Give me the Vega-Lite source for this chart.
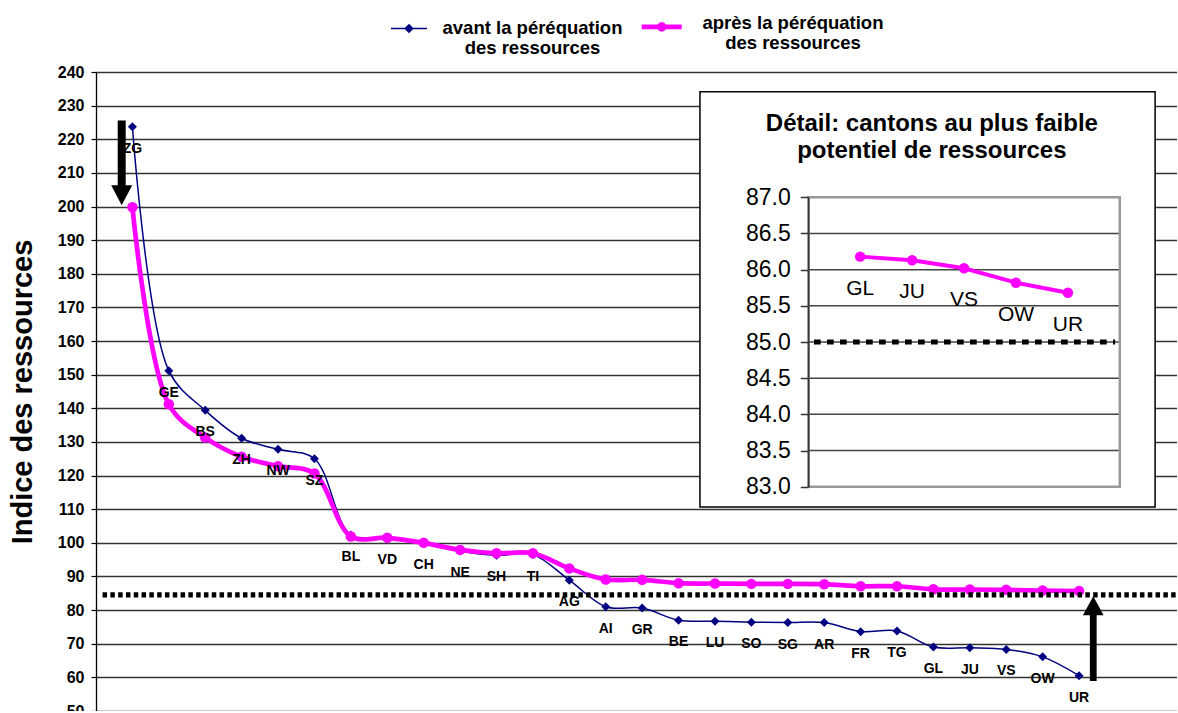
{
  "$schema": "https://vega.github.io/schema/vega-lite/v6.json",
  "autosize": {"type": "none"},
  "padding": {"left": 96, "top": 72, "right": 0, "bottom": 0},
  "width": 1081,
  "height": 639,
  "background": "white",
  "config": {"view": {"stroke": null}, "font": "Liberation Sans"},
  "datasets": {
    "cantons": [
      {"rang": 1, "canton": "ZG", "avant": 223.7, "apres": 199.8},
      {"rang": 2, "canton": "GE", "avant": 151.2, "apres": 141.2},
      {"rang": 3, "canton": "BS", "avant": 139.4, "apres": 131.3},
      {"rang": 4, "canton": "ZH", "avant": 131.1, "apres": 125.6},
      {"rang": 5, "canton": "NW", "avant": 127.8, "apres": 122.8},
      {"rang": 6, "canton": "SZ", "avant": 125.0, "apres": 120.6},
      {"rang": 7, "canton": "BL", "avant": 102.3, "apres": 101.9},
      {"rang": 8, "canton": "VD", "avant": 101.3, "apres": 101.5},
      {"rang": 9, "canton": "CH", "avant": 100.0, "apres": 100.0},
      {"rang": 10, "canton": "NE", "avant": 97.6, "apres": 97.9},
      {"rang": 11, "canton": "SH", "avant": 96.3, "apres": 96.9},
      {"rang": 12, "canton": "TI", "avant": 96.5, "apres": 96.9},
      {"rang": 13, "canton": "AG", "avant": 88.9, "apres": 92.4},
      {"rang": 14, "canton": "AI", "avant": 81.0, "apres": 89.1},
      {"rang": 15, "canton": "GR", "avant": 80.6, "apres": 89.0},
      {"rang": 16, "canton": "BE", "avant": 77.0, "apres": 88.0},
      {"rang": 17, "canton": "LU", "avant": 76.7, "apres": 87.9},
      {"rang": 18, "canton": "SO", "avant": 76.4, "apres": 87.8},
      {"rang": 19, "canton": "SG", "avant": 76.3, "apres": 87.8},
      {"rang": 20, "canton": "AR", "avant": 76.3, "apres": 87.7},
      {"rang": 21, "canton": "FR", "avant": 73.6, "apres": 87.1},
      {"rang": 22, "canton": "TG", "avant": 73.8, "apres": 87.1},
      {"rang": 23, "canton": "GL", "avant": 69.0, "apres": 86.18},
      {"rang": 24, "canton": "JU", "avant": 68.8, "apres": 86.13},
      {"rang": 25, "canton": "VS", "avant": 68.3, "apres": 86.02},
      {"rang": 26, "canton": "OW", "avant": 66.1, "apres": 85.82},
      {"rang": 27, "canton": "UR", "avant": 60.5, "apres": 85.68}
    ],
    "fleches": [
      {"sens": "baisse", "x": 0.706, "y": 213.0},
      {"sens": "hausse", "x": 27.39, "y": 71.5}
    ],
    "seuil": [{"y": 84.5, "x1": 0.18, "x2": 29.69}],
    "detail": [
      {"rang": 1, "canton": "GL", "apres": 86.18},
      {"rang": 2, "canton": "JU", "apres": 86.13},
      {"rang": 3, "canton": "VS", "apres": 86.02},
      {"rang": 4, "canton": "OW", "apres": 85.82},
      {"rang": 5, "canton": "UR", "apres": 85.68}
    ],
    "cadre": [{"x1": -2.087, "x2": 6.68, "y1": 82.72, "y2": 88.46}],
    "zone": [{"x1": 0, "x2": 6, "y1": 83, "y2": 87}],
    "grille": [{"g": 83.5}, {"g": 84}, {"g": 84.5}, {"g": 85}, {"g": 85.5}, {"g": 86}, {"g": 86.5}],
    "seuilDetail": [{"y": 85, "x1": 0.11, "x2": 5.91}],
    "titreDetail": [{"x": 2.38, "y": 88.02, "texte": ["Détail: cantons au plus faible", "potentiel de ressources"]}]
  },
  "layer": [
    {
      "data": {"name": "cantons"},
      "mark": {"type": "line", "interpolate": "catmull-rom", "strokeWidth": 1.5, "color": "#000080"},
      "encoding": {
        "x": {"field": "rang", "type": "quantitative", "scale": {"domain": [0, 29.69], "nice": false, "zero": false}, "axis": null},
        "y": {"field": "avant", "type": "quantitative", "scale": {"domain": [50, 240], "nice": false, "zero": false},
          "axis": {
            "values": [50, 60, 70, 80, 90, 100, 110, 120, 130, 140, 150, 160, 170, 180, 190, 200, 210, 220, 230, 240],
            "grid": true, "gridColor": "#333333", "gridWidth": 1.3, "gridOpacity": 1,
            "domainColor": "#000000", "domainWidth": 1.3,
            "tickColor": "#000000", "tickSize": 5, "tickWidth": 1.2,
            "labelFont": "Liberation Sans", "labelFontSize": 16, "labelFontWeight": "bold", "labelColor": "#000000", "labelPadding": 7,
            "title": "Indice des ressources", "titleFont": "Liberation Sans", "titleFontSize": 29, "titleFontWeight": "bold", "titleColor": "#000000", "titlePadding": 20
          }}
      }
    },
    {
      "data": {"name": "cantons"},
      "mark": {"type": "point", "shape": "diamond", "filled": true, "size": 81, "color": "#000080", "opacity": 1},
      "encoding": {
        "x": {"field": "rang", "type": "quantitative", "scale": {"domain": [0, 29.69], "nice": false, "zero": false}, "axis": null},
        "y": {"field": "avant", "type": "quantitative", "scale": {"domain": [50, 240], "nice": false, "zero": false}, "axis": null}
      }
    },
    {
      "data": {"name": "cantons"},
      "mark": {"type": "line", "interpolate": "catmull-rom", "strokeWidth": 4.7, "color": "#FF00FF"},
      "encoding": {
        "x": {"field": "rang", "type": "quantitative", "scale": {"domain": [0, 29.69], "nice": false, "zero": false}, "axis": null},
        "y": {"field": "apres", "type": "quantitative", "scale": {"domain": [50, 240], "nice": false, "zero": false}, "axis": null}
      }
    },
    {
      "data": {"name": "cantons"},
      "mark": {"type": "point", "shape": "circle", "filled": true, "size": 110, "color": "#FF00FF", "opacity": 1},
      "encoding": {
        "x": {"field": "rang", "type": "quantitative", "scale": {"domain": [0, 29.69], "nice": false, "zero": false}, "axis": null},
        "y": {"field": "apres", "type": "quantitative", "scale": {"domain": [50, 240], "nice": false, "zero": false}, "axis": null}
      }
    },
    {
      "data": {"name": "cantons"},
      "mark": {"type": "text", "font": "Liberation Sans", "fontSize": 14, "fontWeight": "bold", "color": "#000000", "dy": 22, "baseline": "middle", "align": "center"},
      "encoding": {
        "x": {"field": "rang", "type": "quantitative", "scale": {"domain": [0, 29.69], "nice": false, "zero": false}, "axis": null},
        "y": {"field": "avant", "type": "quantitative", "scale": {"domain": [50, 240], "nice": false, "zero": false}, "axis": null},
        "text": {"field": "canton", "type": "nominal"}
      }
    },
    {
      "data": {"name": "seuil"},
      "mark": {"type": "rule", "strokeWidth": 5.3, "strokeDash": [4.5, 3.3], "color": "#000000"},
      "encoding": {
        "x": {"field": "x1", "type": "quantitative", "scale": {"domain": [0, 29.69], "nice": false, "zero": false}, "axis": null},
        "x2": {"field": "x2"},
        "y": {"field": "y", "type": "quantitative", "scale": {"domain": [50, 240], "nice": false, "zero": false}, "axis": null}
      }
    },
    {
      "data": {"name": "fleches"},
      "mark": {"type": "point", "filled": true, "size": 7200, "color": "#000000", "opacity": 1, "strokeWidth": 0},
      "encoding": {
        "x": {"field": "x", "type": "quantitative", "scale": {"domain": [0, 29.69], "nice": false, "zero": false}, "axis": null},
        "y": {"field": "y", "type": "quantitative", "scale": {"domain": [50, 240], "nice": false, "zero": false}, "axis": null},
        "shape": {"field": "sens", "type": "nominal", "legend": null,
          "scale": {"domain": ["baisse", "hausse"], "range": [
            "M-0.094,-1L0.094,-1L0.094,0.53L0.2476,0.53L0,1L-0.2476,0.53L-0.094,0.53Z",
            "M-0.08,1L0.08,1L0.08,-0.55L0.244,-0.55L0,-1L-0.244,-0.55L-0.08,-0.55Z"
          ]}}
      }
    },
    {
      "data": {"values": []},
      "mark": {"type": "point", "filled": false, "color": "#000080", "strokeWidth": 1.5, "opacity": 1},
      "encoding": {
        "shape": {"datum": "avant", "type": "nominal",
          "scale": {"domain": ["avant"], "range": ["M-1,-0.278L1,-0.278M0,-0.486L0.208,-0.278L0,-0.07L-0.208,-0.278ZM0,-0.416L0.138,-0.278L0,-0.14L-0.138,-0.278ZM0,-0.346L0.068,-0.278L0,-0.21L-0.068,-0.278Z"]},
          "legend": {
            "orient": "none", "legendX": 294, "legendY": -57.5, "direction": "horizontal", "title": null, "padding": 0,
            "symbolSize": 1296, "symbolStrokeWidth": 1.5, "symbolOpacity": 1,
            "labelFont": "Liberation Sans", "labelFontSize": 18.5, "labelFontWeight": "bold", "labelColor": "#000000",
            "labelLimit": 0, "labelAlign": "center", "labelBaseline": "alphabetic", "labelOffset": 104.5,
            "labelExpr": "['avant la péréquation', 'des ressources']"
          }}
      }
    },
    {
      "data": {"values": []},
      "mark": {"type": "point", "filled": false, "color": "#FF00FF", "strokeWidth": 4.7, "opacity": 1},
      "encoding": {
        "shape": {"datum": "apres", "type": "nominal",
          "scale": {"domain": ["apres"], "range": ["M-1,-0.08L1,-0.08M0.1175,-0.08L0.1018,-0.0212L0.0588,0.0218L0,0.0375L-0.0588,0.0218L-0.1018,-0.0212L-0.1175,-0.08L-0.1018,-0.1388L-0.0588,-0.1818L0,-0.1975L0.0588,-0.1818L0.1018,-0.1388Z"]},
          "legend": {
            "orient": "none", "legendX": 543.2, "legendY": -66, "direction": "horizontal", "title": null, "padding": 0,
            "symbolSize": 1600, "symbolStrokeWidth": 4.7, "symbolOpacity": 1,
            "labelFont": "Liberation Sans", "labelFontSize": 18.5, "labelFontWeight": "bold", "labelColor": "#000000",
            "labelLimit": 0, "labelAlign": "center", "labelBaseline": "alphabetic", "labelOffset": 108.8,
            "labelExpr": "['après la péréquation', 'des ressources']"
          }}
      }
    },
    {
      "data": {"name": "cadre"},
      "mark": {"type": "rect", "fill": "#FFFFFF", "stroke": "#000000", "strokeWidth": 1.5},
      "encoding": {
        "x": {"field": "x1", "type": "quantitative", "scale": {"domain": [0, 6], "range": [712.3, 1023.8], "nice": false, "zero": false}, "axis": null},
        "x2": {"field": "x2"},
        "y": {"field": "y1", "type": "quantitative", "scale": {"domain": [83, 87], "range": [414.7, 125.3], "nice": false, "zero": false}, "axis": null},
        "y2": {"field": "y2"}
      }
    },
    {
      "data": {"name": "grille"},
      "mark": {"type": "rule", "color": "#444444", "strokeWidth": 1.5},
      "encoding": {
        "x": {"datum": 0, "type": "quantitative", "scale": {"domain": [0, 6], "range": [712.3, 1023.8], "nice": false, "zero": false}, "axis": null},
        "x2": {"datum": 6},
        "y": {"field": "g", "type": "quantitative", "scale": {"domain": [83, 87], "range": [414.7, 125.3], "nice": false, "zero": false}, "axis": null}
      }
    },
    {
      "data": {"name": "zone"},
      "mark": {"type": "rect", "fill": "transparent", "stroke": "#999999", "strokeWidth": 2.5},
      "encoding": {
        "x": {"field": "x1", "type": "quantitative", "scale": {"domain": [0, 6], "range": [712.3, 1023.8], "nice": false, "zero": false}, "axis": null},
        "x2": {"field": "x2"},
        "y": {"field": "y1", "type": "quantitative", "scale": {"domain": [83, 87], "range": [414.7, 125.3], "nice": false, "zero": false},
          "axis": {
            "orient": "left", "offset": -712.3, "zindex": 1,
            "values": [83, 83.5, 84, 84.5, 85, 85.5, 86, 86.5, 87], "format": ".1f",
            "grid": false, "domainColor": "#333333", "domainWidth": 1.5,
            "tickColor": "#333333", "tickSize": 8, "tickWidth": 1.5,
            "labelFont": "Liberation Sans", "labelFontSize": 23, "labelColor": "#000000", "labelPadding": 10,
            "title": null
          }},
        "y2": {"field": "y2"}
      }
    },
    {
      "data": {"name": "seuilDetail"},
      "mark": {"type": "rule", "strokeWidth": 5, "strokeDash": [6.7, 6.3], "color": "#000000"},
      "encoding": {
        "x": {"field": "x1", "type": "quantitative", "scale": {"domain": [0, 6], "range": [712.3, 1023.8], "nice": false, "zero": false}, "axis": null},
        "x2": {"field": "x2"},
        "y": {"field": "y", "type": "quantitative", "scale": {"domain": [83, 87], "range": [414.7, 125.3], "nice": false, "zero": false}, "axis": null}
      }
    },
    {
      "data": {"name": "detail"},
      "mark": {"type": "line", "strokeWidth": 4, "color": "#FF00FF"},
      "encoding": {
        "x": {"field": "rang", "type": "quantitative", "scale": {"domain": [0, 6], "range": [712.3, 1023.8], "nice": false, "zero": false}, "axis": null},
        "y": {"field": "apres", "type": "quantitative", "scale": {"domain": [83, 87], "range": [414.7, 125.3], "nice": false, "zero": false}, "axis": null}
      }
    },
    {
      "data": {"name": "detail"},
      "mark": {"type": "point", "shape": "circle", "filled": true, "size": 110, "color": "#FF00FF", "opacity": 1},
      "encoding": {
        "x": {"field": "rang", "type": "quantitative", "scale": {"domain": [0, 6], "range": [712.3, 1023.8], "nice": false, "zero": false}, "axis": null},
        "y": {"field": "apres", "type": "quantitative", "scale": {"domain": [83, 87], "range": [414.7, 125.3], "nice": false, "zero": false}, "axis": null}
      }
    },
    {
      "data": {"name": "detail"},
      "mark": {"type": "text", "font": "Liberation Sans", "fontSize": 21, "color": "#000000", "dy": 32, "baseline": "middle", "align": "center"},
      "encoding": {
        "x": {"field": "rang", "type": "quantitative", "scale": {"domain": [0, 6], "range": [712.3, 1023.8], "nice": false, "zero": false}, "axis": null},
        "y": {"field": "apres", "type": "quantitative", "scale": {"domain": [83, 87], "range": [414.7, 125.3], "nice": false, "zero": false}, "axis": null},
        "text": {"field": "canton", "type": "nominal"}
      }
    },
    {
      "data": {"name": "titreDetail"},
      "mark": {"type": "text", "font": "Liberation Sans", "fontSize": 24, "fontWeight": "bold", "color": "#000000", "lineHeight": 27, "baseline": "middle", "align": "center"},
      "encoding": {
        "x": {"field": "x", "type": "quantitative", "scale": {"domain": [0, 6], "range": [712.3, 1023.8], "nice": false, "zero": false}, "axis": null},
        "y": {"field": "y", "type": "quantitative", "scale": {"domain": [83, 87], "range": [414.7, 125.3], "nice": false, "zero": false}, "axis": null},
        "text": {"field": "texte", "type": "nominal"}
      }
    }
  ],
  "resolve": {"scale": {"x": "independent", "y": "independent", "shape": "independent"}, "axis": {"x": "independent", "y": "independent"}, "legend": {"shape": "independent"}}
}
